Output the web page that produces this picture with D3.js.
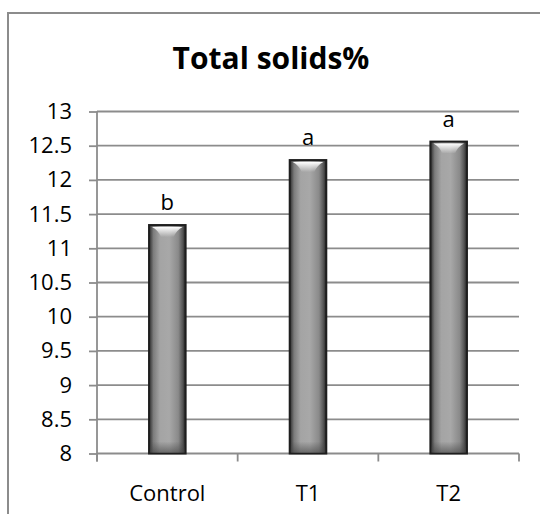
<!DOCTYPE html>
<html>
<head>
<meta charset="utf-8">
<script src="https://cdn.jsdelivr.net/npm/d3@7"></script>
<style>
  body { margin: 0; background: #fff; }
  text { font-family: "Open Sans", sans-serif; fill: #000; }
</style>
</head>
<body>
<div id="chart"></div>
<script>
// data
var categories = ["Control", "T1", "T2"];
var values = [11.34, 12.29, 12.56];
var letters = ["b", "a", "a"];
var yTicks = [8, 8.5, 9, 9.5, 10, 10.5, 11, 11.5, 12, 12.5, 13];

var width = 540, height = 514;
var margin = {top: 111.5, right: 21, bottom: 60.5, left: 97};

var svg = d3.select("#chart")
    .append("svg")
    .attr("width", width)
    .attr("height", height);

var defs = svg.append("defs");
var grad = defs.append("linearGradient")
    .attr("id", "barGrad")
    .attr("x1", "0%").attr("x2", "100%")
    .attr("y1", "0%").attr("y2", "0%");
[[0, "#2a2a2a"], [0.12, "#7c7c7c"], [0.3, "#a4a4a4"], [0.55, "#a8a8a8"], [0.8, "#8a8a8a"], [0.92, "#555"], [1, "#222"]]
  .forEach(function(s) { grad.append("stop").attr("offset", s[0]).attr("stop-color", s[1]); });

var shine = defs.append("linearGradient")
    .attr("id", "shine")
    .attr("x1", "0%").attr("x2", "0%")
    .attr("y1", "0%").attr("y2", "100%");
shine.append("stop").attr("offset", 0).attr("stop-color", "#fff").attr("stop-opacity", 1);
shine.append("stop").attr("offset", 1).attr("stop-color", "#fff").attr("stop-opacity", 0);

var shade = defs.append("linearGradient")
    .attr("id", "shade")
    .attr("x1", "0%").attr("x2", "0%")
    .attr("y1", "0%").attr("y2", "100%");
shade.append("stop").attr("offset", 0).attr("stop-color", "#444").attr("stop-opacity", 0);
shade.append("stop").attr("offset", 1).attr("stop-color", "#444").attr("stop-opacity", 0.6);

// chart area border
svg.append("rect")
    .attr("x", 8).attr("y", 13)
    .attr("width", 560).attr("height", 540)
    .style("fill", "none")
    .style("stroke", "#8c8c8c")
    .style("stroke-width", 2);

svg.append("text")
    .attr("x", 271)
    .attr("y", 69)
    .attr("text-anchor", "middle")
    .style("font-size", "30px")
    .style("font-weight", "bold")
    .text("Total solids%");

var x = d3.scaleBand()
    .domain(categories)
    .range([margin.left, width - margin.right])
    .paddingInner(0.74)
    .paddingOuter(0.37);

var y = d3.scaleLinear()
    .domain([8, 13])
    .range([height - margin.bottom, margin.top]);

// gridlines
svg.append("g")
    .selectAll("line")
    .data(yTicks)
    .enter().append("line")
    .attr("x1", margin.left)
    .attr("x2", width - margin.right)
    .attr("y1", function(d) { return y(d); })
    .attr("y2", function(d) { return y(d); })
    .style("stroke", "#8c8c8c")
    .style("stroke-width", 1.8);

// y axis
var yAxis = svg.append("g")
    .attr("transform", "translate(" + margin.left + ",0)")
    .call(d3.axisLeft(y).tickValues(yTicks).tickSize(8).tickPadding(17)
      .tickFormat(function(d) { return String(d); }));
yAxis.select(".domain").remove();
yAxis.selectAll(".tick line").style("stroke", "#8c8c8c").style("stroke-width", 1.8);
yAxis.selectAll("text").style("font-size", "22px").style("font-family", "Open Sans");
yAxis.append("line")
    .attr("x1", 0).attr("x2", 0)
    .attr("y1", y(13)).attr("y2", y(8) + 8)
    .style("stroke", "#8c8c8c").style("stroke-width", 1.8);

// x axis boundary ticks
var plotW = width - margin.right - margin.left;
var bounds = [0, 1, 2, 3].map(function(k) { return margin.left + k * plotW / 3; });
svg.append("g")
    .selectAll("line")
    .data(bounds)
    .enter().append("line")
    .attr("x1", function(d) { return d; })
    .attr("x2", function(d) { return d; })
    .attr("y1", y(8))
    .attr("y2", y(8) + 8)
    .style("stroke", "#8c8c8c")
    .style("stroke-width", 1.8);

svg.append("g")
    .selectAll("text")
    .data(categories)
    .enter().append("text")
    .attr("x", function(d) { return x(d) + x.bandwidth() / 2; })
    .attr("y", 501)
    .attr("text-anchor", "middle")
    .style("font-size", "22px")
    .text(function(d) { return d; });

// bars
var bars = svg.append("g")
    .selectAll("g")
    .data(values)
    .enter().append("g");

bars.append("rect")
    .attr("x", function(d, i) { return x(categories[i]); })
    .attr("y", function(d) { return y(d); })
    .attr("width", x.bandwidth())
    .attr("height", function(d) { return y(8) - y(d); })
    .style("fill", "url(#barGrad)")
    .style("stroke", "#1e1e1e")
    .style("stroke-width", 2);

bars.append("rect")
    .attr("x", function(d, i) { return x(categories[i]) + 1; })
    .attr("y", y(8) - 12)
    .attr("width", x.bandwidth() - 2)
    .attr("height", 11)
    .style("fill", "url(#shade)");

bars.append("path")
    .attr("d", function(d, i) {
      var x0 = x(categories[i]) + 3, x1 = x(categories[i]) + x.bandwidth() - 3, t = y(d) + 2;
      return "M" + x0 + "," + t + "L" + x1 + "," + t +
             "Q" + (x1 - 6) + "," + (t + 3) + " " + (x1 - 9) + "," + (t + 10) +
             "L" + (x0 + 9) + "," + (t + 10) +
             "Q" + (x0 + 6) + "," + (t + 3) + " " + x0 + "," + t + "Z";
    })
    .style("fill", "url(#shine)");

bars.append("text")
    .attr("x", function(d, i) { return x(categories[i]) + x.bandwidth() / 2; })
    .attr("y", function(d) { return y(d) - 15; })
    .attr("text-anchor", "middle")
    .style("font-size", "22px")
    .text(function(d, i) { return letters[i]; });
</script>
</body>
</html>
